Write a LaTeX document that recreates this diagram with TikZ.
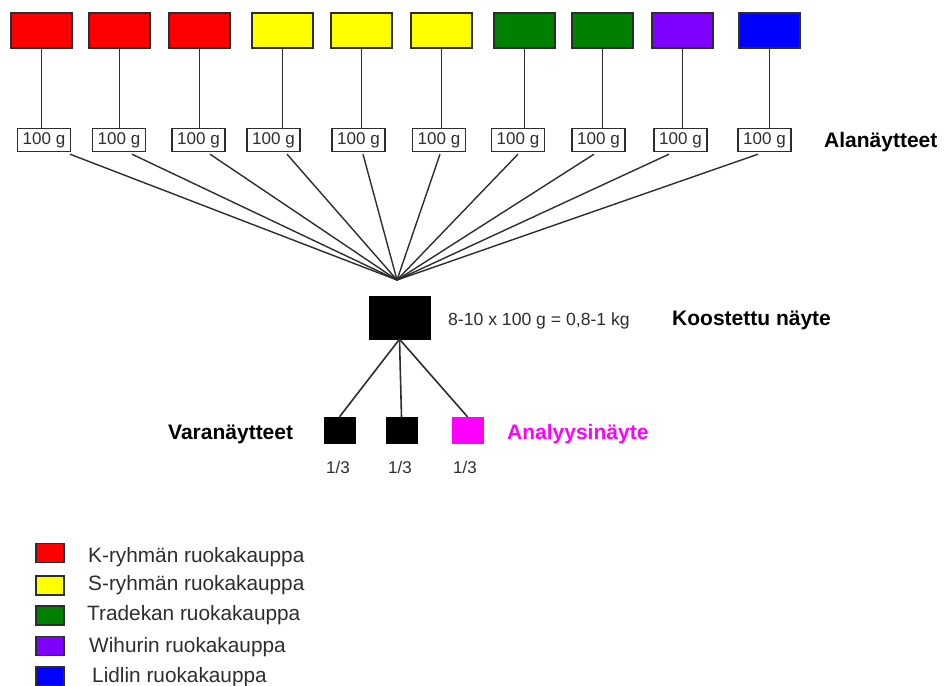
\documentclass[tikz,border=0pt]{standalone}
\usepackage{fontspec}
\setmainfont{Liberation Sans}
\definecolor{kred}{RGB}{255,0,0}
\definecolor{syel}{RGB}{255,255,0}
\definecolor{tgreen}{RGB}{0,128,0}
\definecolor{wpurple}{RGB}{128,0,255}
\definecolor{lblue}{RGB}{0,0,255}
\definecolor{mag}{RGB}{255,0,255}
\definecolor{ink}{RGB}{45,45,45}
\tikzset{
 store/.style={draw=ink, line width=1.4pt, minimum width=61pt, minimum height=35pt, inner sep=0pt},
 wbox/.style={draw=ink, line width=1.4pt, minimum width=53pt, minimum height=23pt, inner sep=0pt, font=\fontsize{17}{17}\selectfont, text=ink},
 conn/.style={draw=ink, line width=1.6pt},
 lab/.style={anchor=base west, inner sep=0pt, font=\bfseries\fontsize{21}{21}\selectfont},
 legsq/.style={draw=ink, line width=1.4pt, minimum width=28pt, minimum height=19pt, inner sep=0pt},
 legtxt/.style={anchor=base west, inner sep=0pt, font=\fontsize{20.8}{21}\selectfont, text=ink},
 frac/.style={anchor=base, inner sep=0pt, font=\fontsize{17}{17}\selectfont, text=ink},
}
\begin{document}
\begin{tikzpicture}[x=1pt,y=-1pt]
\useasboundingbox (0,0) rectangle (944,685);
% top store boxes
\foreach \i/\x/\c in {1/41.5/kred,2/119.5/kred,3/199.5/kred,4/282.5/syel,5/361.5/syel,6/441.5/syel,7/524.5/tgreen,8/602.5/tgreen,9/682.5/wpurple,10/769.5/lblue}
  \node[store, fill=\c] (s\i) at (\x,30.5) {};
% 100 g boxes
\foreach \i/\x in {1/44,2/119,3/198.5,4/273.5,5/358.5,6/439,7/518,8/598.5,9/680.5,10/764.5}
  \node[wbox] (w\i) at (\x,140) {100 g};
% vertical connectors
\foreach \i in {1,...,10}
  \draw[conn] (s\i.south) -- (s\i.south |- w\i.north);
\node[lab] (ala) at (824,147) {Alanäytteet};
% convergence point
\coordinate (conv) at (397,280);
\foreach \i/\dx in {1/26,2/13,3/11.5,4/13.5,5/4.5,6/1,7/0,8/-4.5,9/-11.5,10/-6.5}
  \draw[conn, line width=1.4pt] ([xshift=\dx pt, yshift=-2pt]w\i.south) -- (conv);
% composite sample
\node[fill=black, draw=black, minimum width=61pt, minimum height=43pt, inner sep=0pt] (koo) at (399.5,317.5) {};
\node[anchor=base west, inner sep=0pt, font=\fontsize{17.6}{18}\selectfont, text=ink] (eq) at (448,325) {8-10 x 100 g = 0,8-1 kg};
\node[lab] (kootxt) at (672,325) {Koostettu näyte};
% sub samples
\node[fill=black, draw=black, minimum width=31pt, minimum height=26pt, inner sep=0pt] (v1) at (339.5,430) {};
\node[fill=black, draw=black, minimum width=31pt, minimum height=26pt, inner sep=0pt] (v2) at (401.5,430) {};
\node[fill=mag, draw=mag, minimum width=31pt, minimum height=26pt, inner sep=0pt] (an) at (467.5,430) {};
\draw[conn] (koo.south) -- (v1.north);
\draw[conn] (koo.south) -- (v2.north);
\draw[conn] (koo.south) -- (an.north);
\node[lab] (vara) at (168,439) {Varanäytteet};
\node[lab, text=mag] (anal) at (507,439) {Analyysinäyte};
\node[frac] (f1) at (338,473) {1/3};
\node[frac] (f2) at (400,473) {1/3};
\node[frac] (f3) at (465,473) {1/3};
% legend
\node[legsq, fill=kred] (lk) at (50,553) {};
\node[legsq, fill=syel] (ls) at (50,585.5) {};
\node[legsq, fill=tgreen] (lt) at (50,615.5) {};
\node[legsq, fill=wpurple] (lw) at (50,646) {};
\node[legsq, fill=lblue] (ll) at (50,676.5) {};
\node[legtxt] (tk) at (88,562) {K-ryhmän ruokakauppa};
\node[legtxt] (ts) at (88,590) {S-ryhmän ruokakauppa};
\node[legtxt] (tt) at (87,620) {Tradekan ruokakauppa};
\node[legtxt] (tw) at (89,652) {Wihurin ruokakauppa};
\node[legtxt] (tl) at (92,682) {Lidlin ruokakauppa};
\end{tikzpicture}
\end{document}
